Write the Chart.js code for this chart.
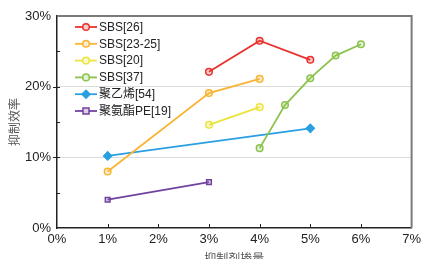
<!DOCTYPE html>
<html>
<head>
<meta charset="utf-8">
<script src="https://cdn.jsdelivr.net/npm/chart.js@4/dist/chart.umd.min.js"></script>
<style>
html,body{margin:0;padding:0;background:#fff;}
#wrap{width:425px;height:259px;position:relative;}
</style>
</head>
<body>
<div id="wrap"><canvas id="c" width="425" height="259"></canvas></div>
<script>
// ---- data ----
const seriesNames = ['SBS[26]', 'SBS[23-25]', 'SBS[20]', 'SBS[37]', '聚乙烯[54]', '聚氨酯PE[19]'];
const sbs26X = [3, 4, 5];
const sbs26Y = [22.1, 26.5, 23.8];
const sbs2325X = [1, 3, 4];
const sbs2325Y = [8.0, 19.1, 21.1];
const sbs20X = [3, 4];
const sbs20Y = [14.6, 17.1];
const sbs37X = [4, 4.5, 5, 5.5, 6];
const sbs37Y = [11.3, 17.4, 21.2, 24.4, 26.0];
const peX = [1, 5];
const peY = [10.2, 14.1];
const puX = [1, 3];
const puY = [4.0, 6.5];
const xTicks = [0, 1, 2, 3, 4, 5, 6, 7];
const yTicks = [0, 10, 20, 30];
const xTitle = '抑制剂掺量';
const yTitle = '抑制效率';

const colors = ['#e8322e', '#f8b432', '#ece43a', '#8cc34e', '#2a9fe2', '#7242a2'];
const fills = ['rgba(232,50,46,0.25)', 'rgba(248,180,50,0.25)', 'rgba(236,228,58,0.25)', 'rgba(140,195,78,0.25)', '#2a9fe2', 'rgba(114,66,162,0.25)'];
const styles = ['circle', 'circle', 'circle', 'circle', 'rectRot', 'rect'];
const radii = [3.3, 3.3, 3.3, 3.3, 4, 3.3];

const pairs = [[sbs26X, sbs26Y], [sbs2325X, sbs2325Y], [sbs20X, sbs20Y], [sbs37X, sbs37Y], [peX, peY], [puX, puY]];
const datasets = pairs.map((p, i) => ({
  label: seriesNames[i],
  data: p[0].map((x, j) => ({x: x, y: p[1][j]})),
  borderColor: colors[i],
  backgroundColor: fills[i],
  pointStyle: styles[i],
  pointRadius: radii[i],
  pointBorderWidth: 1.5,
  borderWidth: 1.8,
  tension: 0,
  clip: false
}));

const FONT = "'Liberation Sans', Arial, 'Noto Sans CJK SC', sans-serif";

const decor = {
  id: 'decor',
  afterDraw(chart) {
    const ctx = chart.ctx;
    const a = chart.chartArea;
    const xs = chart.scales.x, ys = chart.scales.y;
    ctx.save();
    // top & right border
    ctx.strokeStyle = '#7a7a7a';
    ctx.lineWidth = 2;
    ctx.beginPath();
    ctx.moveTo(a.left, a.top);
    ctx.lineTo(a.right, a.top);
    ctx.lineTo(a.right, a.bottom);
    ctx.stroke();
    // y ticks
    ctx.strokeStyle = '#222';
    ctx.lineWidth = 1;
    [10, 20].forEach(v => {
      const y = Math.round(ys.getPixelForValue(v)) + 0.5;
      ctx.beginPath(); ctx.moveTo(a.left - 4, y); ctx.lineTo(a.left + 3, y); ctx.stroke();
    });
    [5, 15, 25].forEach(v => {
      const y = Math.round(ys.getPixelForValue(v)) + 0.5;
      ctx.beginPath(); ctx.moveTo(a.left, y); ctx.lineTo(a.left + 3, y); ctx.stroke();
    });
    [1, 2, 3, 4, 5, 6].forEach(v => {
      const x = Math.round(xs.getPixelForValue(v)) + 0.5;
      ctx.beginPath(); ctx.moveTo(x, a.bottom); ctx.lineTo(x, a.bottom - 4); ctx.stroke();
    });
    // legend
    ctx.font = '12px ' + FONT;
    ctx.textBaseline = 'middle';
    ctx.textAlign = 'left';
    chart.data.datasets.forEach((ds, i) => {
      const y = 27 + i * 16.8;
      ctx.strokeStyle = ds.borderColor;
      ctx.lineWidth = 1.8;
      ctx.beginPath(); ctx.moveTo(75, y); ctx.lineTo(97, y); ctx.stroke();
      ctx.strokeStyle = ds.borderColor;
      ctx.lineWidth = 1.5;
      ctx.beginPath();
      if (ds.pointStyle === 'circle') { ctx.arc(86, y, ds.pointRadius, 0, Math.PI * 2); }
      else if (ds.pointStyle === 'rect') { ctx.rect(86 - 3, y - 3, 6, 6); }
      else { ctx.moveTo(86, y - 4); ctx.lineTo(90, y); ctx.lineTo(86, y + 4); ctx.lineTo(82, y); ctx.closePath(); }
      ctx.fillStyle = '#fff';
      ctx.fill();
      ctx.fillStyle = ds.backgroundColor;
      ctx.fill(); ctx.stroke();
      ctx.fillStyle = '#222';
      ctx.fillText(ds.label, 99, y + 0.5);
    });
    ctx.restore();
  }
};

new Chart(document.getElementById('c'), {
  type: 'line',
  data: {datasets: datasets},
  plugins: [decor],
  options: {
    responsive: false,
    animation: false,
    devicePixelRatio: 1,
    layout: {padding: {top: 16, right: 7, left: 0, bottom: 0}},
    plugins: {legend: {display: false}, tooltip: {enabled: false}},
    scales: {
      x: {
        type: 'linear', min: 0, max: 7,
        afterBuildTicks: s => { s.ticks = xTicks.map(v => ({value: v})); },
        afterFit: s => { s.height = 31; },
        ticks: {color: '#222', font: {family: FONT, size: 13}, padding: 4, maxRotation: 0,
          callback: v => v + '%'},
        grid: {color: 'transparent', tickColor: 'transparent', tickLength: 0},
        border: {display: true, color: '#222', width: 1.5},
        title: {display: true, text: xTitle, color: '#555', font: {family: FONT, size: 12, lineHeight: 1}, padding: {top: 0, bottom: -7}}
      },
      y: {
        type: 'linear', min: 0, max: 30,
        afterBuildTicks: s => { s.ticks = yTicks.map(v => ({value: v})); },
        afterFit: s => { s.width = 57; },
        ticks: {color: '#222', font: {family: FONT, size: 13}, padding: 6,
          callback: v => v + '%'},
        grid: {color: c => (c.tick && (c.tick.value === 10 || c.tick.value === 20)) ? '#dcdcdc' : 'transparent', tickColor: 'transparent', tickLength: 0, lineWidth: 1},
        border: {display: true, color: '#222', width: 1.5},
        title: {display: true, text: yTitle, color: '#555', font: {family: FONT, size: 12, lineHeight: 1}, padding: {top: 10, bottom: 0}}
      }
    }
  }
});
</script>
</body>
</html>
